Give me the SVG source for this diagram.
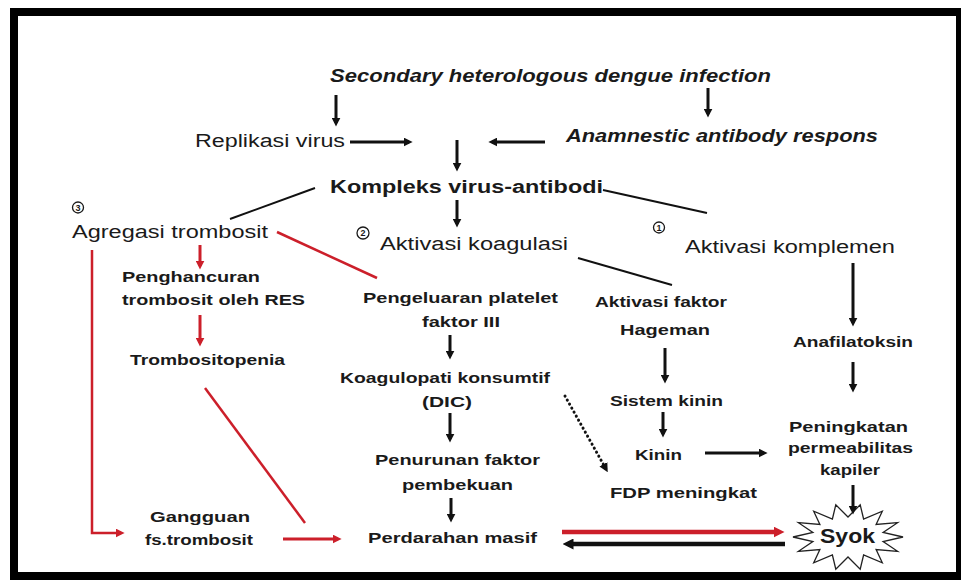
<svg xmlns="http://www.w3.org/2000/svg" width="961" height="581" viewBox="0 0 961 581">
<style>
text{font-family:"Liberation Sans",Arial,sans-serif;fill:#1a1a1a}
.it{font-style:italic;font-weight:bold;font-size:18px}
.lg{font-size:18px}
.bd{font-weight:bold;font-size:18px}
.sm{font-weight:bold;font-size:15px}
.num{font-size:9px;font-weight:bold;text-anchor:middle}
.circ{fill:none;stroke:#1a1a1a;stroke-width:1.3}
.k{stroke:#111;stroke-width:3;fill:none}
.kt{stroke:#111;stroke-width:2;fill:none}
.r{stroke:#cc1f2a;stroke-width:3;fill:none}
.rt{stroke:#cc1f2a;stroke-width:2.5;fill:none}
</style>
<defs>
<marker id="ah" viewBox="0 0 10 10" refX="6" refY="5" markerWidth="9" markerHeight="9" markerUnits="userSpaceOnUse" orient="auto"><path d="M0,0 L10,5 L0,10 z" fill="#111"/></marker>
<marker id="ahr" viewBox="0 0 10 10" refX="6" refY="5" markerWidth="9" markerHeight="9" markerUnits="userSpaceOnUse" orient="auto"><path d="M0,0 L10,5 L0,10 z" fill="#cc1f2a"/></marker>
<marker id="ahL" viewBox="0 0 10 10" refX="5" refY="5" markerWidth="11" markerHeight="11" markerUnits="userSpaceOnUse" orient="auto"><path d="M0,0 L10,5 L0,10 z" fill="#111"/></marker>
<marker id="ahrL" viewBox="0 0 10 10" refX="5" refY="5" markerWidth="11" markerHeight="11" markerUnits="userSpaceOnUse" orient="auto"><path d="M0,0 L10,5 L0,10 z" fill="#cc1f2a"/></marker>
</defs>
<rect x="0" y="0" width="961" height="581" fill="#fff"/>
<rect x="14" y="12" width="946" height="564" fill="#fff" stroke="#000" stroke-width="8"/>

<g id="connectors">
<line class="k" x1="336" y1="95" x2="336" y2="123" marker-end="url(#ah)"/>
<line class="k" x1="350" y1="142" x2="409" y2="142" marker-end="url(#ah)"/>
<line class="k" x1="457" y1="140" x2="457" y2="168" marker-end="url(#ah)"/>
<line class="k" x1="545" y1="142" x2="492" y2="142" marker-end="url(#ah)"/>
<line class="k" x1="708" y1="88" x2="708" y2="114" marker-end="url(#ah)"/>
<line class="k" x1="457" y1="200" x2="457" y2="224" marker-end="url(#ah)"/>
<line class="kt" x1="315" y1="188" x2="230" y2="219"/>
<line class="kt" x1="603" y1="190" x2="707" y2="213"/>
<line class="kt" x1="578" y1="258" x2="672" y2="285"/>
<line class="k" x1="450" y1="335" x2="450" y2="356" marker-end="url(#ah)"/>
<line class="k" x1="450" y1="413" x2="450" y2="439" marker-end="url(#ah)"/>
<line class="k" x1="451" y1="498" x2="451" y2="519" marker-end="url(#ah)"/>
<line class="k" x1="665" y1="348" x2="665" y2="380" marker-end="url(#ah)"/>
<line class="k" x1="663" y1="412" x2="663" y2="434" marker-end="url(#ah)"/>
<line class="k" x1="705" y1="453" x2="764" y2="453" marker-end="url(#ah)"/>
<line class="k" x1="853" y1="263" x2="853" y2="323" marker-end="url(#ah)"/>
<line class="k" x1="853" y1="362" x2="853" y2="389" marker-end="url(#ah)"/>
<line x1="565" y1="396" x2="606" y2="469" stroke="#111" stroke-width="3" stroke-linecap="round" stroke-dasharray="0.1 4.5" marker-end="url(#ah)"/>
<line x1="785" y1="544" x2="568" y2="544" stroke="#111" stroke-width="4.5" marker-end="url(#ahL)"/>
<line class="rt" x1="277" y1="232" x2="377" y2="278"/>
<line class="r" x1="200" y1="245" x2="200" y2="266" marker-end="url(#ahr)"/>
<line class="r" x1="200" y1="315" x2="200" y2="343" marker-end="url(#ahr)"/>
<polyline class="rt" points="92,250 92,533 121,533" marker-end="url(#ahr)"/>
<line class="rt" x1="205" y1="388" x2="305" y2="523"/>
<line class="r" x1="283" y1="539" x2="338" y2="539" marker-end="url(#ahr)"/>
<line x1="562" y1="532" x2="779" y2="532" stroke="#cc1f2a" stroke-width="4.5" marker-end="url(#ahrL)"/>
</g>

<g id="n-secondary"><text class="it" x="330" y="82" textLength="441" lengthAdjust="spacingAndGlyphs">Secondary heterologous dengue infection</text></g>
<g id="n-anamnestic"><text class="it" x="566" y="142" textLength="312" lengthAdjust="spacingAndGlyphs">Anamnestic antibody respons</text></g>
<g id="n-replikasi"><text class="lg" x="195" y="147" textLength="150" lengthAdjust="spacingAndGlyphs">Replikasi virus</text></g>
<g id="n-kompleks"><text class="bd" x="330" y="193" textLength="273" lengthAdjust="spacingAndGlyphs">Kompleks virus-antibodi</text></g>
<g id="n-agregasi"><circle class="circ" cx="78" cy="207.5" r="5.5"/><text class="num" x="78" y="210.8">3</text><text class="lg" x="72" y="238" textLength="196" lengthAdjust="spacingAndGlyphs">Agregasi trombosit</text></g>
<g id="n-koagulasi"><circle class="circ" cx="363" cy="233" r="6"/><text class="num" x="363" y="236.3">2</text><text class="lg" x="380" y="250" textLength="188" lengthAdjust="spacingAndGlyphs">Aktivasi koagulasi</text></g>
<g id="n-komplemen"><circle class="circ" cx="659" cy="227.5" r="5.5"/><text class="num" x="659" y="230.8">1</text><text class="lg" x="685" y="253" textLength="210" lengthAdjust="spacingAndGlyphs">Aktivasi komplemen</text></g>
<g id="n-penghancuran"><text class="sm" x="122" y="282" textLength="138" lengthAdjust="spacingAndGlyphs">Penghancuran</text><text class="sm" x="122" y="305" textLength="183" lengthAdjust="spacingAndGlyphs">trombosit oleh RES</text></g>
<g id="n-trombositopenia"><text class="sm" x="130" y="365" textLength="155" lengthAdjust="spacingAndGlyphs">Trombositopenia</text></g>
<g id="n-pengeluaran"><text class="sm" x="363" y="303" textLength="195" lengthAdjust="spacingAndGlyphs">Pengeluaran platelet</text><text class="sm" x="422" y="327" textLength="78" lengthAdjust="spacingAndGlyphs">faktor III</text></g>
<g id="n-koagulopati"><text class="sm" x="340" y="383" textLength="210" lengthAdjust="spacingAndGlyphs">Koagulopati konsumtif</text><text class="sm" x="422" y="407" textLength="50" lengthAdjust="spacingAndGlyphs">(DIC)</text></g>
<g id="n-penurunan"><text class="sm" x="375" y="465" textLength="165" lengthAdjust="spacingAndGlyphs">Penurunan faktor</text><text class="sm" x="402" y="490" textLength="111" lengthAdjust="spacingAndGlyphs">pembekuan</text></g>
<g id="n-perdarahan"><text class="sm" x="368" y="543" textLength="169" lengthAdjust="spacingAndGlyphs">Perdarahan masif</text></g>
<g id="n-gangguan"><text class="sm" x="150" y="522" textLength="100" lengthAdjust="spacingAndGlyphs">Gangguan</text><text class="sm" x="145" y="545" textLength="108" lengthAdjust="spacingAndGlyphs">fs.trombosit</text></g>
<g id="n-hageman"><text class="sm" x="595" y="307" textLength="132" lengthAdjust="spacingAndGlyphs">Aktivasi faktor</text><text class="sm" x="620" y="335" textLength="90" lengthAdjust="spacingAndGlyphs">Hageman</text></g>
<g id="n-sistemkinin"><text class="sm" x="610" y="406" textLength="113" lengthAdjust="spacingAndGlyphs">Sistem kinin</text></g>
<g id="n-kinin"><text class="sm" x="635" y="460" textLength="47" lengthAdjust="spacingAndGlyphs">Kinin</text></g>
<g id="n-fdp"><text class="sm" x="610" y="498" textLength="147" lengthAdjust="spacingAndGlyphs">FDP meningkat</text></g>
<g id="n-anafilatoksin"><text class="sm" x="793" y="347" textLength="120" lengthAdjust="spacingAndGlyphs">Anafilatoksin</text></g>
<g id="n-peningkatan"><text class="sm" x="789" y="432" textLength="119" lengthAdjust="spacingAndGlyphs">Peningkatan</text><text class="sm" x="788" y="453" textLength="125" lengthAdjust="spacingAndGlyphs">permeabilitas</text><text class="sm" x="820" y="475" textLength="60" lengthAdjust="spacingAndGlyphs">kapiler</text></g>
<g id="n-syok">
<polygon points="903,537 883.1,541.5 897.6,551.3 876.1,549.5 882.3,562.8 863.6,555 860.2,569.2 848,557 835.8,569.2 832.4,555 813.7,562.8 819.9,549.5 798.4,551.3 812.9,541.5 793,537 812.9,532.5 798.4,522.7 819.9,524.5 813.7,511.2 832.4,519 835.8,504.8 848,517 860.2,504.8 863.6,519 882.3,511.2 876.1,524.5 897.6,522.7 883.1,532.5" fill="#fff" stroke="#222" stroke-width="1.3"/>
<text x="820" y="543" font-size="20" font-weight="bold" textLength="55" lengthAdjust="spacingAndGlyphs">Syok</text>
</g>
<g id="connector-kapiler-syok"><line class="k" x1="853" y1="485" x2="853" y2="511" marker-end="url(#ah)"/></g>
</svg>
